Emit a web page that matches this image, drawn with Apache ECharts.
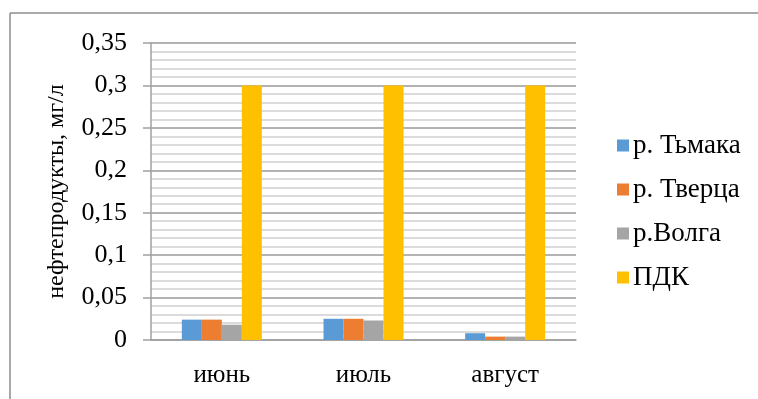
<!DOCTYPE html>
<html>
<head>
<meta charset="utf-8">
<script src="https://cdn.jsdelivr.net/npm/echarts@6/dist/echarts.min.js"></script>
<style>
html,body{margin:0;padding:0;background:#fff;}
#chart{width:758px;height:399px;}
</style>
</head>
<body>
<div id="chart"></div>
<script>
const categories = ['июнь', 'июль', 'август'];
const seriesNames = ['р. Тьмака', 'р. Тверца', 'р.Волга', 'ПДК'];
const tmaka = [0.024, 0.025, 0.008];
const tvertsa = [0.024, 0.025, 0.004];
const volga = [0.018, 0.023, 0.004];
const pdk = [0.3, 0.3, 0.3];
const yTickValues = [0, 0.05, 0.1, 0.15, 0.2, 0.25, 0.3, 0.35];
const yTickLabels = ['0', '0,05', '0,1', '0,15', '0,2', '0,25', '0,3', '0,35'];
const yAxisName = 'нефтепродукты, мг/л';

const colors = ['#5B9BD5', '#ED7D31', '#A5A5A5', '#FFC000'];
const FONT = '"Liberation Serif", "Times New Roman", serif';
const values = [tmaka, tvertsa, volga, pdk];

const chart = echarts.init(document.getElementById('chart'), null, {renderer: 'canvas'});
chart.setOption({
  animation: false,
  backgroundColor: '#ffffff',
  textStyle: {fontFamily: FONT, color: '#000'},
  graphic: [
    {type: 'line', shape: {x1: 10, y1: 13, x2: 758, y2: 13}, style: {stroke: '#8c8c8c', lineWidth: 1.5}},
    {type: 'line', shape: {x1: 10, y1: 13, x2: 10, y2: 399}, style: {stroke: '#8c8c8c', lineWidth: 1.5}}
  ],
  grid: {left: 151, right: 182, top: 43, bottom: 59, containLabel: false},
  legend: {
    orient: 'vertical',
    left: 612,
    top: 127,
    itemWidth: 12,
    itemHeight: 12,
    itemGap: 17,
    icon: 'rect',
    textStyle: {fontFamily: FONT, fontSize: 27, color: '#000', padding: [0, 0, 0, -1]},
    data: seriesNames
  },
  xAxis: {
    type: 'category',
    data: categories,
    axisLine: {show: true, lineStyle: {color: '#a0a0a0', width: 1.5}},
    axisTick: {show: false},
    axisLabel: {fontFamily: FONT, fontSize: 25, color: '#000', margin: 23}
  },
  yAxis: {
    type: 'value',
    min: 0,
    max: 0.35,
    interval: 0.05,
    name: yAxisName,
    nameLocation: 'middle',
    nameGap: 82,
    nameTextStyle: {fontFamily: FONT, fontSize: 24, color: '#000'},
    axisLine: {show: true, lineStyle: {color: '#a0a0a0', width: 1.5}},
    axisTick: {show: true, length: 8, lineStyle: {color: '#a0a0a0', width: 1.5}},
    axisLabel: {
      fontFamily: FONT, fontSize: 26, color: '#000', margin: 24,
      formatter: function (v) {
        const i = yTickValues.findIndex(t => Math.abs(t - v) < 1e-9);
        return i >= 0 ? yTickLabels[i] : '';
      }
    },
    splitLine: {show: true, lineStyle: {color: '#9a9a9a', width: 1.5}},
    minorTick: {show: false, splitNumber: 5},
    minorSplitLine: {show: true, lineStyle: {color: '#cfcfcf', width: 1.5}}
  },
  series: values.map((d, i) => ({
    name: seriesNames[i],
    type: 'bar',
    data: d,
    barWidth: 20,
    barGap: '0%',
    itemStyle: {color: colors[i]}
  }))
});
</script>
</body>
</html>
